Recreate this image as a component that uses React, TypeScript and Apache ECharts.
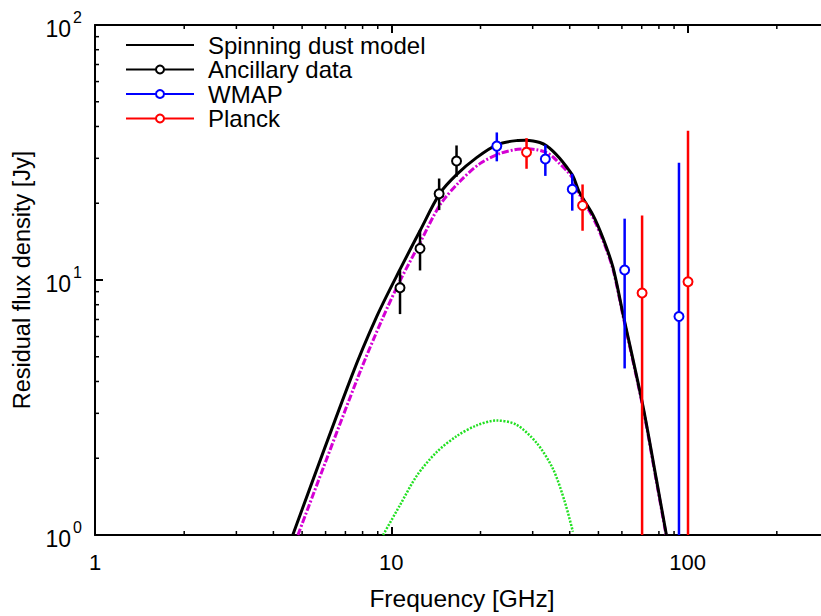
import React, { useEffect, useRef } from "react";
import * as echarts from "echarts";

// Spinning dust model (total)
const modelFreq = [4.65, 7.34, 8.91, 10.7, 12.5, 14.6, 16.6, 19.4, 22.7, 26.4, 28.4, 30.1, 31.7, 33.4, 35.1, 37.0, 39.0, 41.0, 43.2, 47.9, 51.8, 56.0, 60.5, 70.7, 78.4, 84.8];
const modelFlux = [1.0, 4.18, 7.15, 11.0, 15.6, 21.9, 25.9, 30.2, 33.9, 35.2, 35.3, 35.1, 34.6, 33.6, 32.0, 30.0, 27.8, 25.6, 22.0, 18.0, 14.6, 11.2, 7.37, 3.2, 1.66, 1.0];

// Dominant component (magenta dash-dot)
const compAFreq = [4.84, 7.73, 9.38, 10.7, 12.5, 14.6, 17.0, 19.9, 23.2, 26.0, 28.6, 31.0, 33.4, 35.2, 37.0, 39.0, 41.0, 43.2, 47.9, 51.8, 56.0, 60.5, 70.7, 78.4, 84.6];
const compAFlux = [1.0, 4.18, 7.15, 9.93, 14.0, 19.7, 24.3, 28.6, 31.3, 32.4, 32.7, 32.4, 31.6, 30.3, 28.6, 26.9, 25.0, 21.6, 17.6, 14.3, 11.0, 7.25, 3.15, 1.63, 1.0];

// Second component (green dotted)
const compBFreq = [9.38, 10.7, 12.2, 14.2, 16.6, 19.4, 22.6, 26.4, 30.9, 35.1, 38.5, 41.0];
const compBFlux = [1.0, 1.31, 1.71, 2.11, 2.44, 2.69, 2.81, 2.71, 2.30, 1.82, 1.35, 1.03];

// Ancillary data
const ancFreq = [10.7, 12.5, 14.5, 16.6];
const ancFlux = [9.33, 13.3, 21.8, 29.3];
const ancLo = [7.35, 10.9, 18.8, 25.4];
const ancHi = [10.9, 15.7, 25.0, 33.7];

// WMAP
const wmapFreq = [22.7, 33.1, 40.8, 61.3, 93.5];
const wmapFlux = [33.5, 29.8, 22.7, 10.95, 7.19];
const wmapLo = [29.2, 25.6, 18.7, 4.5, 0.5];
const wmapHi = [37.9, 33.9, 26.1, 17.4, 28.8];

// Planck
const planckFreq = [28.6, 44.2, 70.2, 100.3];
const planckFlux = [31.7, 19.6, 8.89, 9.84];
const planckLo = [27.3, 15.6, 0.5, 0.5];
const planckHi = [36.0, 23.7, 17.9, 38.5];

// Axes
const xMin = 1;
const xMax = 300;
const yMin = 1;
const yMax = 100;
const xMinorTicks = [2, 3, 4, 5, 6, 7, 8, 9, 20, 30, 40, 50, 60, 70, 80, 90, 200];
const yMinorTicks = [2, 3, 4, 5, 6, 7, 8, 9, 20, 30, 40, 50, 60, 70, 80, 90];

const FONT = "'Liberation Sans', Arial, Helvetica, sans-serif";

const zip2 = (a: number[], b: number[]) => a.map((v, i) => [v, b[i]]);
const zip3 = (a: number[], b: number[], c: number[]) => a.map((v, i) => [v, b[i], c[i]]);

function errorBars(name: string, color: string, f: number[], lo: number[], hi: number[]) {
  return {
    type: "custom",
    name: name + "-err",
    clip: true,
    silent: true,
    data: zip3(f, lo, hi),
    encode: { x: 0, y: [1, 2] },
    renderItem: (params: any, api: any) => {
      const x = api.value(0);
      const p1 = api.coord([x, api.value(1)]);
      const p2 = api.coord([x, api.value(2)]);
      return {
        type: "line",
        shape: { x1: p1[0], y1: p1[1], x2: p2[0], y2: p2[1] },
        style: { stroke: color, lineWidth: 2.5 },
      };
    },
    z: 3,
  };
}

function points(name: string, color: string, f: number[], v: number[]) {
  return {
    type: "line",
    name,
    data: zip2(f, v),
    symbol: "emptyCircle",
    symbolSize: 9,
    showSymbol: true,
    itemStyle: { color, borderWidth: 2 },
    lineStyle: { color, width: 0, opacity: 0 },
    z: 4,
    silent: true,
  };
}

function curve(name: string, f: number[], v: number[], lineStyle: any) {
  return {
    type: "line",
    name,
    data: zip2(f, v),
    symbol: "none",
    smooth: 0.3,
    clip: true,
    color: lineStyle.color,
    itemStyle: { color: lineStyle.color },
    lineStyle,
    z: 2,
    silent: true,
  };
}

export default function App() {
  const ref = useRef<HTMLDivElement>(null);
  useEffect(() => {
    if (!ref.current) return;
    const chart = echarts.init(ref.current, null, { renderer: "svg" });
    const option: any = {
      animation: false,
      backgroundColor: "#ffffff",
      textStyle: { fontFamily: FONT },
      grid: { left: 95, top: 25, right: 0, bottom: 76, containLabel: false },
      legend: {
        orient: "vertical",
        left: 125,
        top: 33,
        padding: 0,
        itemWidth: 68,
        itemHeight: 10,
        itemGap: 0.5,
        selectedMode: false,
        textStyle: { fontSize: 24, lineHeight: 24, color: "#000", fontFamily: FONT, padding: [0, 0, 0, 9] },
        lineStyle: { width: 2, opacity: 1 },
        data: [
          { name: "Spinning dust model", itemStyle: { opacity: 0 } },
          { name: "Ancillary data" },
          { name: "WMAP" },
          { name: "Planck" },
        ],
      },
      xAxis: [
        {
          type: "log",
          logBase: 10,
          min: xMin,
          max: xMax,
          position: "bottom",
          name: "Frequency [GHz]",
          nameLocation: "middle",
          nameGap: 51,
          nameTextStyle: { fontSize: 24.5, color: "#000", fontFamily: FONT },
          axisLine: { show: true, lineStyle: { color: "#000", width: 2 } },
          axisTick: { show: true, inside: true, length: 8, lineStyle: { color: "#000", width: 2 } },
          axisLabel: {
            show: true,
            margin: 16,
            fontSize: 22,
            color: "#000",
            fontFamily: FONT,
            showMaxLabel: false,
            formatter: (v: number) => String(v),
          },
          splitLine: { show: false },
        },
        {
          type: "log",
          logBase: 10,
          min: xMin,
          max: xMax,
          position: "top",
          axisLine: { show: true, lineStyle: { color: "#000", width: 2 } },
          axisTick: { show: true, inside: true, length: 8, lineStyle: { color: "#000", width: 2 } },
          axisLabel: { show: false },
          splitLine: { show: false },
        },
      ],
      yAxis: [
        {
          type: "log",
          logBase: 10,
          min: yMin,
          max: yMax,
          position: "left",
          name: "Residual flux density [Jy]",
          nameLocation: "middle",
          nameGap: 61,
          nameRotate: 90,
          nameTextStyle: { fontSize: 23.5, color: "#000", fontFamily: FONT },
          axisLine: { show: true, lineStyle: { color: "#000", width: 2 } },
          axisTick: { show: true, inside: true, length: 8, lineStyle: { color: "#000", width: 2 } },
          axisLabel: {
            show: true,
            margin: 13,
            color: "#000",
            fontFamily: FONT,
            formatter: (v: number) => `{b|10}{s|${Math.round(Math.log10(v))}}`,
            rich: {
              b: { fontSize: 23, lineHeight: 31, verticalAlign: "bottom", color: "#000", fontFamily: FONT },
              s: { fontSize: 16, lineHeight: 16, verticalAlign: "top", color: "#000", fontFamily: FONT, padding: [0, 0, 0, 2] },
            },
          },
          splitLine: { show: false },
        },
      ],
      series: [
        {
          type: "custom",
          name: "xminor",
          silent: true,
          data: xMinorTicks.map((v) => [v, yMin]),
          encode: { x: 0, y: 1 },
          renderItem: (params: any, api: any) => {
            const v = api.value(0);
            const pb = api.coord([v, yMin]);
            const pt = api.coord([v, yMax]);
            return {
              type: "group",
              children: [
                { type: "line", shape: { x1: pb[0], y1: pb[1], x2: pb[0], y2: pb[1] - 4 }, style: { stroke: "#000", lineWidth: 1.5 } },
                { type: "line", shape: { x1: pt[0], y1: pt[1], x2: pt[0], y2: pt[1] + 4 }, style: { stroke: "#000", lineWidth: 1.5 } },
              ],
            };
          },
        },
        {
          type: "custom",
          name: "yminor",
          silent: true,
          data: yMinorTicks.map((v) => [xMin, v]),
          encode: { x: 0, y: 1 },
          renderItem: (params: any, api: any) => {
            const v = api.value(1);
            const pl = api.coord([xMin, v]);
            return {
              type: "line",
              shape: { x1: pl[0], y1: pl[1], x2: pl[0] + 4, y2: pl[1] },
              style: { stroke: "#000", lineWidth: 1.5 },
            };
          },
        },
        curve("Component A", compAFreq, compAFlux, { color: "#d400d4", width: 3, type: [7, 2, 2, 2] }),
        curve("Component B", compBFreq, compBFlux, { color: "#22e022", width: 2.5, type: [2, 1.5] }),
        curve("Spinning dust model", modelFreq, modelFlux, { color: "#000000", width: 3 }),
        errorBars("Ancillary data", "#000000", ancFreq, ancLo, ancHi),
        errorBars("WMAP", "#0000ff", wmapFreq, wmapLo, wmapHi),
        errorBars("Planck", "#ff0000", planckFreq, planckLo, planckHi),
        points("Ancillary data", "#000000", ancFreq, ancFlux),
        points("WMAP", "#0000ff", wmapFreq, wmapFlux),
        points("Planck", "#ff0000", planckFreq, planckFlux),
      ],
    };
    chart.setOption(option);
    return () => chart.dispose();
  }, []);
  return (
    <div
      ref={ref}
      style={{ position: "fixed", left: 0, top: 0, width: 829, height: 616, background: "#fff" }}
    />
  );
}
